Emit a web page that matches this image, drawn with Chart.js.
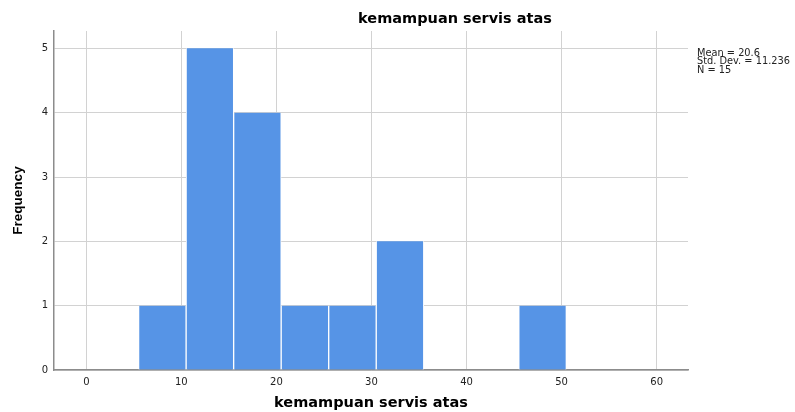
<!DOCTYPE html>
<html>
<head>
<meta charset="utf-8">
<script src="https://cdn.jsdelivr.net/npm/chart.js@4"></script>
<style>
	html, body { margin: 0; padding: 0; background: #fff; }
	#wrap { width: 795px; height: 412px; position: relative; }
</style>
</head>
<body>
<div id="wrap"><canvas id="histogramcanvas"></canvas></div>
<script>
// histogram bins (centre of each 5-wide bin) and their counts
var binCenters = [8, 13, 18, 23, 28, 33, 38, 43, 48];
var frequencies = [1, 5, 4, 1, 1, 2, 0, 0, 1];
var xTickValues = [0, 10, 20, 30, 40, 50, 60];
var yTickValues = [0, 1, 2, 3, 4, 5];
var chartTitle = "kemampuan servis atas";
var xAxisTitle = "kemampuan servis atas";
var yAxisTitle = "Frequency";
var statsLines = ["Mean = 20.6", "Std. Dev. = 11.236", "N = 15"];

var gridColor = "#d2d2d2";
var axisColor = "#8c8c8c";
var tickFont = { family: "DejaVu Sans", size: 10 };

// title above the plot and the summary text on the right
var textPlugin = {
	id: "spssText",
	afterDraw: function(chart) {
		var c = chart.ctx;
		c.save();
		c.fillStyle = "#000";
		c.textBaseline = "middle";
		c.textAlign = "center";
		c.font = "bold 14.5px 'DejaVu Sans'";
		c.fillText(chartTitle, 455, 19);
		c.textAlign = "left";
		c.fillStyle = "#222";
		c.font = "9.8px 'DejaVu Sans'";
		for (var i = 0; i < statsLines.length; i++) {
			c.fillText(statsLines[i], 697, 53 + i * 8.6);
		}
		c.restore();
	}
};

var ctx = document.getElementById("histogramcanvas");

var data = {
	datasets: [{
		label: "Frequency",
		data: binCenters.map(function(x, i) { return { x: x, y: frequencies[i] }; }),
		backgroundColor: "#5694e6",
		borderColor: "#ffffff",
		borderWidth: { left: 1, right: 1, top: 0, bottom: 0 },
		barPercentage: 1,
		categoryPercentage: 1
	}]
};

var options = {
	responsive: true,
	maintainAspectRatio: false,
	animation: false,
	layout: { padding: { top: 31, right: 107, bottom: 0, left: 0 } },
	plugins: {
		legend: { display: false },
		tooltip: { enabled: false }
	},
	scales: {
		x: {
			type: "linear",
			min: -3.4,
			max: 63.3,
			offset: false,
			afterBuildTicks: function(s) { s.ticks = xTickValues.map(function(v) { return { value: v }; }); },
			afterFit: function(s) { s.height = 42; },
			grid: { color: gridColor, lineWidth: 1, drawTicks: false, offset: false },
			border: { color: axisColor, width: 1.5 },
			ticks: { font: tickFont, color: "#222", padding: 6, maxRotation: 0 },
			title: {
				display: true,
				text: xAxisTitle,
				color: "#000",
				font: { family: "DejaVu Sans", size: 14.5, weight: "bold" },
				padding: { top: 0, bottom: 0 }
			}
		},
		y: {
			min: 0,
			max: 5.27,
			afterBuildTicks: function(s) { s.ticks = yTickValues.map(function(v) { return { value: v }; }); },
			afterFit: function(s) { s.width = 54; },
			grid: { color: gridColor, lineWidth: 1, drawTicks: false },
			border: { color: axisColor, width: 1.5 },
			ticks: { font: tickFont, color: "#222", padding: 6 },
			title: {
				display: true,
				text: yAxisTitle,
				color: "#000",
				font: { family: "Liberation Sans", size: 13.5, weight: "bold" },
				padding: { top: 10, bottom: 0 }
			}
		}
	}
};

var chart = new Chart(ctx, {
	type: "bar",
	data: data,
	options: options,
	plugins: [textPlugin]
});
</script>
</body>
</html>
